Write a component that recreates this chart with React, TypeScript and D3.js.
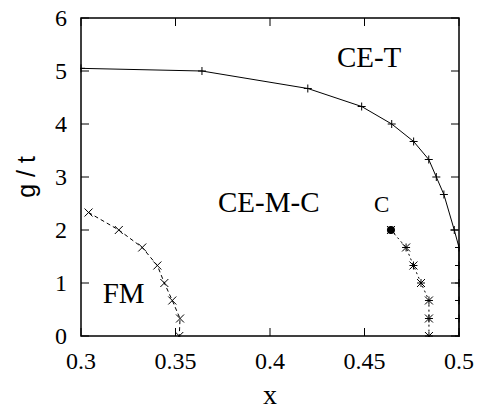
import React from "react";
import * as d3 from "d3";

// phase boundary data
const ceTx = [0.3, 0.364, 0.42, 0.4485, 0.4644, 0.476, 0.484, 0.488, 0.492, 0.4975, 0.5, 0.5, 0.5, 0.5, 0.5, 0.5];
const ceTg = [5.05, 5.0, 4.67, 4.33, 4.0, 3.67, 3.33, 3.0, 2.67, 2.0, 1.67, 1.33, 1.0, 0.67, 0.33, 0];

const fmX = [0.304, 0.32, 0.3324, 0.3404, 0.3441, 0.3483, 0.3524, 0.352];
const fmG = [2.33, 2.0, 1.67, 1.33, 1.0, 0.67, 0.33, 0];

const cX = [0.464, 0.472, 0.4759, 0.4799, 0.4841, 0.4841, 0.4841];
const cG = [2.0, 1.67, 1.33, 1.0, 0.67, 0.33, 0];

const xTicks = [0.3, 0.35, 0.4, 0.45, 0.5];
const xTickLabels = ["0.3", "0.35", "0.4", "0.45", "0.5"];
const yTicks = [0, 1, 2, 3, 4, 5, 6];

const regionLabels = [
  { text: "CE-T", x: 0.4354, g: 5.075, size: 29 },
  { text: "CE-M-C", x: 0.3725, g: 2.335, size: 29 },
  { text: "C", x: 0.455, g: 2.335, size: 23 },
  { text: "FM", x: 0.3115, g: 0.628, size: 29 },
];

const width = 478;
const height = 409;
const margin = { top: 18, left: 81, right: 19, bottom: 73 };
const serif = "'Liberation Serif', 'Times New Roman', serif";

export default function App() {
  const iw = width - margin.left - margin.right;
  const ih = height - margin.top - margin.bottom;

  const x = d3.scaleLinear().domain([0.3, 0.5]).range([0, iw]);
  const y = d3.scaleLinear().domain([0, 6]).range([ih, 0]);

  const line = d3.line<[number, number]>().x(d => x(d[0])).y(d => y(d[1]));

  const ceT = ceTx.map((v, i) => [v, ceTg[i]] as [number, number]);
  const fm = fmX.map((v, i) => [v, fmG[i]] as [number, number]);
  const cc = cX.map((v, i) => [v, cG[i]] as [number, number]);

  const s = 4;
  const plus = (p: [number, number], k: string) => (
    <path key={k} d={`M${x(p[0]) - s},${y(p[1])}h${2 * s}M${x(p[0])},${y(p[1]) - s}v${2 * s}`} stroke="#000" strokeWidth={1} />
  );
  const cross = (p: [number, number], k: string) => (
    <path key={k} d={`M${x(p[0]) - s},${y(p[1]) - s}l${2 * s},${2 * s}M${x(p[0]) - s},${y(p[1]) + s}l${2 * s},${-2 * s}`} stroke="#000" strokeWidth={1} />
  );

  return (
    <svg width={width} height={height} style={{ position: "absolute", left: 0, top: 0, background: "#fff" }}>
      <g transform={`translate(${margin.left},${margin.top})`}>
        <defs>
          <clipPath id="plotclip">
            <rect x={-1} y={-1} width={iw + 2} height={ih + 2} />
          </clipPath>
        </defs>

        {/* ticks, mirrored on the top and right like the original */}
        {xTicks.map((t, i) => (
          <g key={"xt" + i}>
            <line x1={x(t)} x2={x(t)} y1={ih} y2={ih - 8} stroke="#000" />
            <line x1={x(t)} x2={x(t)} y1={0} y2={8} stroke="#000" />
            <text x={x(t)} y={ih + 33} textAnchor="middle" fontFamily={serif} fontSize={24}>{xTickLabels[i]}</text>
          </g>
        ))}
        {yTicks.map((t, i) => (
          <g key={"yt" + i}>
            <line x1={0} x2={8} y1={y(t)} y2={y(t)} stroke="#000" />
            <line x1={iw} x2={iw - 8} y1={y(t)} y2={y(t)} stroke="#000" />
            <text x={-14} y={y(t)} dy="0.35em" textAnchor="end" fontFamily={serif} fontSize={24}>{t}</text>
          </g>
        ))}

        <g clipPath="url(#plotclip)">
          <path d={line(ceT) || ""} fill="none" stroke="#000" strokeWidth={1} />
          {ceT.map((p, i) => plus(p, "p" + i))}

          <path d={line(fm) || ""} fill="none" stroke="#000" strokeWidth={1} strokeDasharray="4,3" />
          {fm.map((p, i) => cross(p, "x" + i))}

          <path d={line(cc) || ""} fill="none" stroke="#000" strokeWidth={1} strokeDasharray="2,3" />
          {cc.map((p, i) => (
            <g key={"c" + i}>
              {plus(p, "cp" + i)}
              {cross(p, "cx" + i)}
            </g>
          ))}
          <circle cx={x(cX[0])} cy={y(cG[0])} r={4} fill="#000" />
        </g>

        <rect x={0} y={0} width={iw} height={ih} fill="none" stroke="#000" strokeWidth={1.5} />

        {regionLabels.map((l, i) => (
          <text key={"l" + i} x={x(l.x)} y={y(l.g)} fontFamily={serif} fontSize={l.size}>{l.text}</text>
        ))}
      </g>

      <text x={margin.left + iw / 2} y={404} textAnchor="middle" fontFamily={serif} fontSize={28}>x</text>
      <text transform="translate(26,177) rotate(-90)" textAnchor="middle" dy="0.35em" fontFamily="'Liberation Sans', Arial, sans-serif" fontSize={25}>g / t</text>
    </svg>
  );
}
